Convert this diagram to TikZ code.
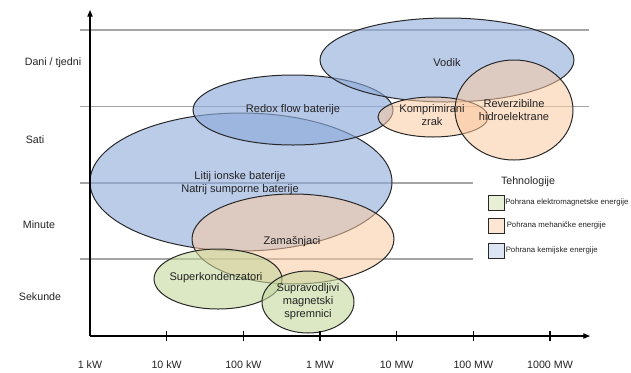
\documentclass[tikz,border=0pt]{standalone}
\usepackage{fontspec}
\setmainfont{Liberation Sans}
\usetikzlibrary{shapes.geometric,arrows.meta}
\definecolor{chemfill}{RGB}{141,170,219}
\definecolor{mechfill}{RGB}{250,200,160}
\definecolor{emagfill}{RGB}{196,215,155}
\definecolor{gridgrey}{RGB}{165,165,165}
\definecolor{edge}{RGB}{40,40,40}
\definecolor{txt}{RGB}{35,35,35}
\begin{document}
\begin{tikzpicture}[x=0.75pt,y=-0.75pt,
  gridline/.style={draw=gridgrey,line width=0.9pt},
  axisline/.style={draw=black,line width=0.8pt},
  tickmark/.style={draw=black,line width=0.8pt},
  tech/.style 2 args={ellipse,draw=edge,line width=0.75pt,inner sep=0pt,
    minimum width=#1*0.75pt,minimum height=#2*0.75pt,fill opacity=0.6},
  chem/.style={fill=chemfill},
  mech/.style={fill=mechfill,fill opacity=0.55},
  emag/.style={fill=emagfill},
  lbl/.style={text=txt,align=center,font=\fontsize{8.3}{9.8}\selectfont,inner sep=0pt},
  axlbl/.style={text=txt,font=\fontsize{8}{9.6}\selectfont,inner sep=0pt},
  keybox/.style={draw=edge,line width=0.7pt,minimum width=16*0.75pt,minimum height=15*0.75pt,inner sep=0pt,fill opacity=0.4},
  keytxt/.style={text=txt,anchor=west,font=\fontsize{5.85}{7}\selectfont,inner sep=0pt}]

\useasboundingbox (0,0) rectangle (631,372);

% horizontal grid lines separating the time scales
\coordinate (g1a) at (80,30);    \coordinate (g1b) at (589,30);
\coordinate (g2a) at (80,106.5); \coordinate (g2b) at (589,106.5);
\coordinate (g3a) at (80,183);   \coordinate (g3b) at (473,183);
\coordinate (g4a) at (80,259);   \coordinate (g4b) at (473,259);
\draw[gridline] (g1a) -- (g1b);
\draw[gridline] (g2a) -- (g2b);
\draw[gridline] (g3a) -- (g3b);
\draw[gridline] (g4a) -- (g4b);

% storage technologies
\node[tech={302}{138},chem] (liion)  at (241,182) {};
\node[tech={200}{70},chem,fill opacity=0.65]  (redox)  at (293,110) {};
\node[tech={254}{84},chem]  (vodik)  at (447,60)  {};
\node[tech={202}{90},mech]  (zam)    at (293,239) {};
\node[tech={110}{40},mech]  (kz)     at (433,117) {};
\node[tech={118}{100},mech] (rhe)    at (514,110) {};
\node[tech={128}{60},emag]  (superk) at (218,279) {};
\node[tech={92}{62},emag]   (smes)   at (308,302) {};

\node[lbl] (tvodik)  at (447,63)  {Vodik};
\node[lbl] (tkz)     at (432,115) {Komprimirani\\zrak};
\node[lbl] (trhe)    at (514,110) {Reverzibilne\\hidroelektrane};
\node[lbl] (tredox)  at (293,110) {Redox flow baterije};
\node[lbl] (tliion)  at (240,183) {Litij ionske baterije\\Natrij sumporne baterije};
\node[lbl] (tzam)    at (292,242) {Zamašnjaci};
\node[lbl] (tsuperk) at (216,278) {Superkondenzatori};
\node[lbl] (tsmes)   at (308,302) {Supravodljivi\\magnetski\\spremnici};

% axes
\coordinate (O)    at (90,336);
\coordinate (ytop) at (90,10);
\coordinate (xend) at (590,336);
\draw[axisline,-{Triangle[length=5pt,width=4pt]}] (O) -- (ytop);
\draw[axisline,-{Triangle[length=5pt,width=4pt]}] (O) -- (xend);

% power ticks and labels
\foreach \i/\name/\t in {0/k1/1 kW,1/k10/10 kW,2/k100/100 kW,3/m1/1 MW,4/m10/10 MW,5/m100/100 MW,6/m1000/1000 MW}{
  \coordinate (tick\name) at (90+76.67*\i,336);
  \ifnum\i>0 \draw[tickmark] ([yshift=-4pt]tick\name) -- ([yshift=4pt]tick\name);\fi
  \node[axlbl] (x\name) at (90+76.67*\i,365) {\t};
}

% time scale labels
\node[axlbl] (ydays) at (53,63)  {Dani / tjedni};
\node[axlbl] (yhrs)  at (35,140) {Sati};
\node[axlbl] (ymin)  at (39,225) {Minute};
\node[axlbl] (ysec)  at (40,297) {Sekunde};

% legend
\node[axlbl] (ktitle) at (528,182) {Tehnologije};
\node[keybox,fill=emagfill] (kemag) at (496.5,202.5) {};
\node[keybox,fill=mechfill,fill opacity=0.45] (kmech) at (496.5,225.5) {};
\node[keybox,fill=chemfill,fill opacity=0.3] (kchem) at (496.5,250.5) {};
\node[keytxt] (lemag) at (505,202.5) {Pohrana elektromagnetske energije};
\node[keytxt] (lmech) at (506.5,225.5) {Pohrana mehaničke energije};
\node[keytxt] (lchem) at (505.5,250.5) {Pohrana kemijske energije};
\end{tikzpicture}
\end{document}
